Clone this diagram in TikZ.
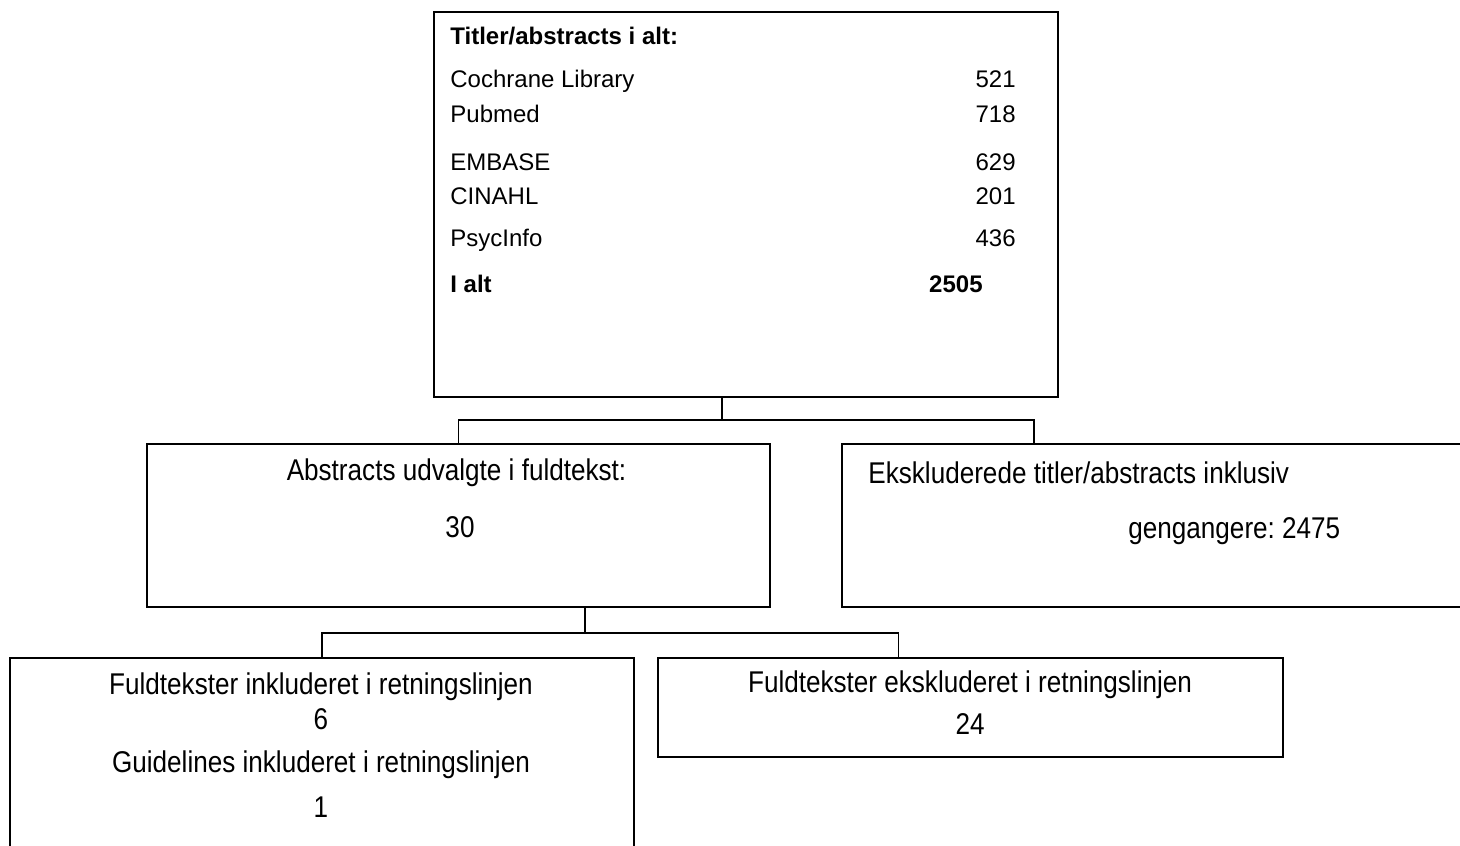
\documentclass[tikz,border=0pt]{standalone}
\usepackage{fontspec}
\setmainfont{Liberation Sans}
\newfontfamily\narrowfont{Liberation Sans}[FakeStretch=0.87]
\begin{document}
\begin{tikzpicture}[x=0.5pt,y=-0.5pt,
  box/.style={draw=black,line width=0.85pt,rectangle,inner sep=0pt,fill=none},
  conn/.style={draw=black,line width=0.85pt},
  small/.style={inner sep=0pt,font=\fontsize{12}{14}\selectfont},
  big/.style={inner sep=0pt,font=\narrowfont\fontsize{15}{18}\selectfont}]
\useasboundingbox (0,0) rectangle (1460,845);
\clip (0,0) rectangle (1460,845);
% boxes
\node[box,minimum width=312pt,minimum height=192.5pt] (top) at (746,204.5) {};
\node[box,minimum width=311.5pt,minimum height=81.5pt] (A) at (458.5,525.5) {};
\node[box,minimum width=316.5pt,minimum height=81.5pt] (B) at (1158.5,525.5) {};
\node[box,minimum width=312pt,minimum height=101pt] (C) at (322,759) {};
\node[box,minimum width=312.5pt,minimum height=49.5pt] (D) at (970.5,707.5) {};
% connectors
\coordinate (bus1) at (722,420);
\coordinate (bdrop) at (1034,420);
\coordinate (bus2) at (585,633);
\coordinate (ddrop) at (898.5,633);
\draw[conn] (bus1 |- top.south) -- (bus1);
\draw[conn] (A.north) |- (bdrop) -- (bdrop |- B.north);
\draw[conn] (bus2 |- A.south) -- (bus2);
\draw[conn] (C.north) |- (ddrop) -- (ddrop |- D.north);
% top box text
\node[small,anchor=base west,font=\fontsize{12}{14}\selectfont\bfseries] (th) at (450,45) {Titler/abstracts i alt:};
\node[small,anchor=base west] (l1) at (450,88) {Cochrane Library};
\node[small,anchor=base east] (n1) at (1016,88) {521};
\node[small,anchor=base west] (l2) at (450,123) {Pubmed};
\node[small,anchor=base east] (n2) at (1016,123) {718};
\node[small,anchor=base west] (l3) at (450,171) {EMBASE};
\node[small,anchor=base east] (n3) at (1016,171) {629};
\node[small,anchor=base west] (l4) at (450,205) {CINAHL};
\node[small,anchor=base east] (n4) at (1016,205) {201};
\node[small,anchor=base west] (l5) at (450,247) {PsycInfo};
\node[small,anchor=base east] (n5) at (1016,247) {436};
\node[small,anchor=base west,font=\fontsize{12}{14}\selectfont\bfseries] (l6) at (450,292) {I alt};
\node[small,anchor=base east,font=\fontsize{12}{14}\selectfont\bfseries] (n6) at (983,292) {2505};
% box A text
\node[big,anchor=base] (a1) at (456.5,480) {Abstracts udvalgte i fuldtekst:};
\node[big,anchor=base] (a2) at (460,537) {30};
% box B text
\node[big,anchor=base west] (b1) at (868,483) {Ekskluderede titler/abstracts inklusiv};
\node[big,anchor=base west] (b2) at (1128,538) {gengangere:~2475};
% box C text
\node[big,anchor=base] (c1) at (321,694) {Fuldtekster inkluderet i retningslinjen};
\node[big,anchor=base] (c2) at (321,729) {6};
\node[big,anchor=base] (c3) at (321,772) {Guidelines inkluderet i retningslinjen};
\node[big,anchor=base] (c4) at (321,817) {1};
% box D text
\node[big,anchor=base] (d1) at (970,692) {Fuldtekster ekskluderet i retningslinjen};
\node[big,anchor=base] (d2) at (970,734) {24};
\end{tikzpicture}
\end{document}
